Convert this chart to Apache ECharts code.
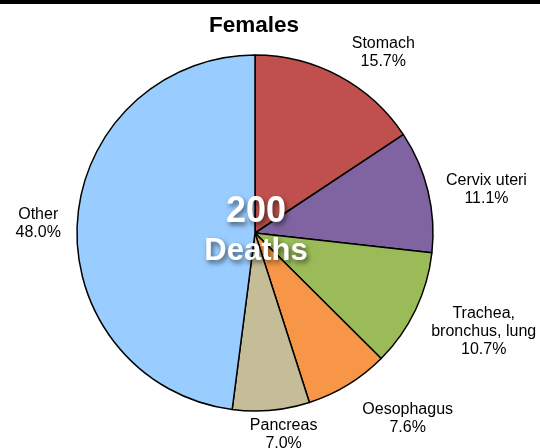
<!DOCTYPE html>
<html><head><meta charset="utf-8">
<script src="https://cdn.jsdelivr.net/npm/echarts@6/dist/echarts.min.js"></script>
<style>
html,body{margin:0;padding:0;background:#fff;}
#bar{position:absolute;left:0;top:0;width:540px;height:4px;background:#000;}
#c{position:absolute;left:0;top:0;width:540px;height:448px;}
</style></head><body>
<div id="c"></div><div id="bar"></div>
<script>
const categories = ['Stomach', 'Cervix uteri', 'Trachea,\nbronchus, lung', 'Oesophagus', 'Pancreas', 'Other'];
const percents = [15.7, 11.1, 10.7, 7.6, 7.0, 48.0];
const colors = ['#C0504D', '#8064A2', '#9BBB59', '#F79646', '#C4BD97', '#99CCFF'];
const chartTitle = 'Females';
const totalDeaths = 200;
const centerCaption = 'Deaths';
// label nudges (style only) relative to the library's outside placement
const labelNudges = [[-1, -7.5], [-4.5, 3], [-5.5, 13.5], [0, 18.5], [-28, 6.5], [6.5, 3]];

const chart = echarts.init(document.getElementById('c'));
const FONT = '"Liberation Sans", Arial, Helvetica, sans-serif';
const SH = { textShadowColor: 'rgba(0,0,0,0.55)', textShadowBlur: 5, textShadowOffsetX: 2, textShadowOffsetY: 3 };
chart.setOption({
  animation: false,
  title: { text: chartTitle, left: 249, textAlign: 'center', top: 9, textStyle: { fontFamily: FONT, fontSize: 22.5, fontWeight: 'bold', color: '#000' } },
  graphic: [{
    type: 'text', x: 256, y: 231.5, z: 100,
    style: Object.assign({
      text: '{n|' + totalDeaths + '}\n{d|' + centerCaption + '}', fill: '#fff', align: 'center', verticalAlign: 'middle',
      rich: {
        n: Object.assign({ fontFamily: FONT, fontWeight: 'bold', fontSize: 36, lineHeight: 40, fill: '#fff', align: 'center' }, SH),
        d: Object.assign({ fontFamily: FONT, fontWeight: 'bold', fontSize: 31, lineHeight: 38, fill: '#fff', align: 'center' }, SH)
      }
    }, SH)
  }],
  series: [{
    type: 'pie', center: [255, 233], radius: [0, 178], startAngle: 90, clockwise: true,
    avoidLabelOverlap: false,
    data: categories.map((n, i) => ({ name: n, value: percents[i], itemStyle: { color: colors[i] } })),
    itemStyle: { borderColor: '#000', borderWidth: 1.5 },
    label: {
      show: true, position: 'outside',
      formatter: p => p.name.split('\n').concat([p.value.toFixed(1) + '%']).map(s => '{t|' + s + '}').join('\n'),
      fontFamily: FONT, fontSize: 16, color: '#000', lineHeight: 18,
      rich: { t: { align: 'center', fontFamily: FONT, fontSize: 16, lineHeight: 18, color: '#000' } }
    },
    labelLine: { show: false, length: 18, length2: 0 },
    labelLayout: p => ({ dx: labelNudges[p.dataIndex][0], dy: labelNudges[p.dataIndex][1] }),
    emphasis: { disabled: true }
  }]
});
</script></body></html>
